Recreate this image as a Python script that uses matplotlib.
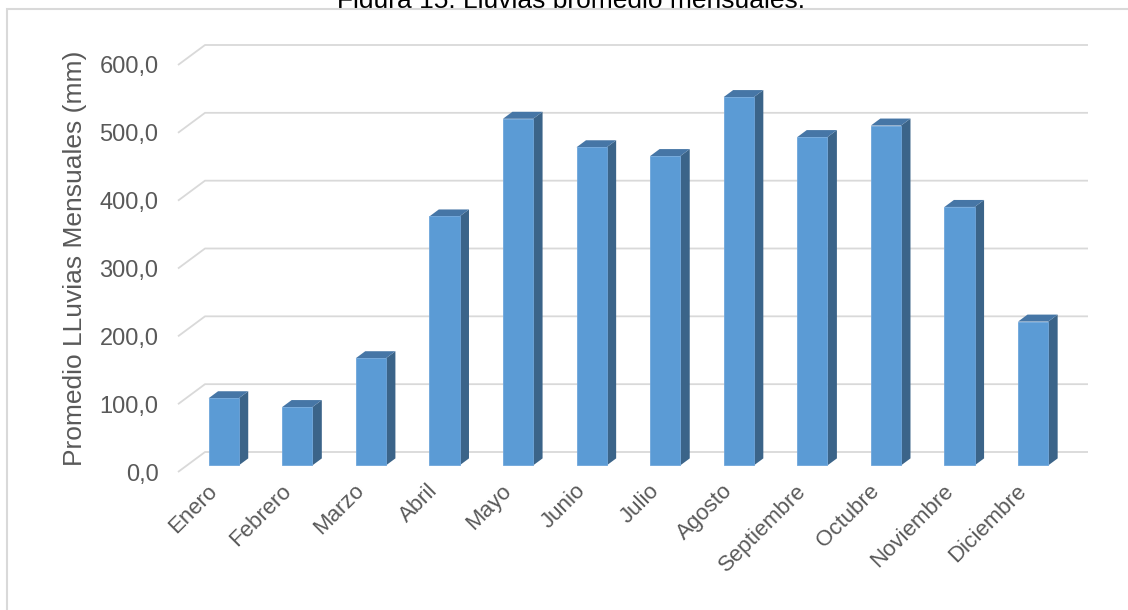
# -*- coding: UTF-8 -*-
# Lluvias promedio mensuales - grafico de columnas estilo 3D (Excel)

import matplotlib
matplotlib.use('Agg')
import matplotlib.pyplot as plt
import matplotlib.transforms as mtransforms
from matplotlib.patches import Polygon, Rectangle


# Datos
meses = ['Enero', 'Febrero', 'Marzo', 'Abril', 'Mayo', 'Junio', 'Julio', 'Agosto',
         'Septiembre', 'Octubre', 'Noviembre', 'Diciembre']
lluvia_mm = [99.0, 86.0, 158.0, 367.0, 511.0, 469.0, 456.0, 543.0, 484.0, 501.0, 381.0, 212.0]
y_ticks = [0, 100, 200, 300, 400, 500, 600]
titulo = 'Figura 15. Lluvias promedio mensuales.'
y_titulo = 'Promedio LLuvias Mensuales (mm)'

# Estilo general
W, H = 1128, 610
col_front = '#5b9bd5'
col_side = '#3b6489'
col_top = '#4676a6'
col_grid = '#d9d9d9'
col_text = '#595959'
depth_px = (27.0, 20.0)  # desplazamiento de la pared de fondo (px)
bar_t = (0.33, 0.68)     # profundidad de la columna (fraccion)
bar_w = 0.41

plt.rcParams['font.family'] = ['Liberation Sans', 'DejaVu Sans']
fig = plt.figure(figsize=(W / 100, H / 100), dpi=100)

# Titulo (parcialmente tapado por el area del grafico, como en la imagen)
fig.text(571 / W, 1 - 8 / H, titulo, ha='center', va='baseline', fontsize=19,
         color='black', zorder=1)
# Area del grafico con borde gris
fig.add_artist(Rectangle((7 / W, -0.1), 1.2, 1.1 - 9 / H, transform=fig.transFigure,
                         facecolor='white', edgecolor=col_grid, linewidth=1.5, zorder=2))

# Ejes = plano frontal
ax_l, ax_r, ax_b, ax_t = 178, 1061, 472, 65
ax = fig.add_axes([ax_l / W, 1 - ax_b / H, (ax_r - ax_l) / W, (ax_b - ax_t) / H])
ax.set_zorder(3)
ax.patch.set_visible(False)
ax.set_xlim(-0.5, 11.5)
ax.set_ylim(0, 600)
for s in ax.spines.values():
    s.set_visible(False)

px_x = (ax_r - ax_l) / 12.0
px_y = (ax_b - ax_t) / 600.0
bx, by = depth_px[0] / px_x, depth_px[1] / px_y

# Lineas de division en la pared de fondo + diagonales del piso lateral
x0, x1 = ax.get_xlim()
for v in y_ticks:
    ax.plot([x0, x0 + bx, x1 + bx], [v, v + by, v + by], color=col_grid, lw=1.3,
            clip_on=False, zorder=1, solid_capstyle='butt')

# Columnas
fx, fy = bar_t[0] * bx, bar_t[0] * by
kx, ky = bar_t[1] * bx, bar_t[1] * by
for i, v in enumerate(lluvia_mm):
    a, b = i - bar_w / 2, i + bar_w / 2
    side = [(b + fx, fy), (b + kx, ky), (b + kx, v + ky), (b + fx, v + fy)]
    top = [(a + fx, v + fy), (b + fx, v + fy), (b + kx, v + ky), (a + kx, v + ky)]
    front = [(a + fx, fy), (b + fx, fy), (b + fx, v + fy), (a + fx, v + fy)]
    ax.add_patch(Polygon(side, closed=True, fc=col_side, ec='none', clip_on=False, zorder=2))
    ax.add_patch(Polygon(top, closed=True, fc=col_top, ec='none', clip_on=False, zorder=2))
    ax.add_patch(Polygon(front, closed=True, fc=col_front, ec='#6fa6db', lw=0.6,
                         clip_on=False, zorder=3))

# Ejes y etiquetas
ax.set_yticks(y_ticks)
ax.set_yticklabels([('%.1f' % t).replace('.', ',') for t in y_ticks])
ax.tick_params(axis='y', length=0, pad=14, labelsize=17, labelcolor=col_text)
ax.set_xticks(range(len(meses)), meses, rotation=45, ha='right', rotation_mode='anchor')
ax.tick_params(axis='x', length=0, pad=6, labelsize=16, labelcolor=col_text)
shift = mtransforms.ScaledTranslation(-8 / 100, 0, fig.dpi_scale_trans)
for lbl in ax.get_xticklabels():
    lbl.set_transform(lbl.get_transform() + shift)
ax.set_ylabel(y_titulo, fontsize=19, color=col_text, va='center')
ax.yaxis.set_label_coords((75 - ax_l) / (ax_r - ax_l), (ax_b - 258) / (ax_b - ax_t))

plt.savefig('out.png', dpi=100)
plt.close('all')
